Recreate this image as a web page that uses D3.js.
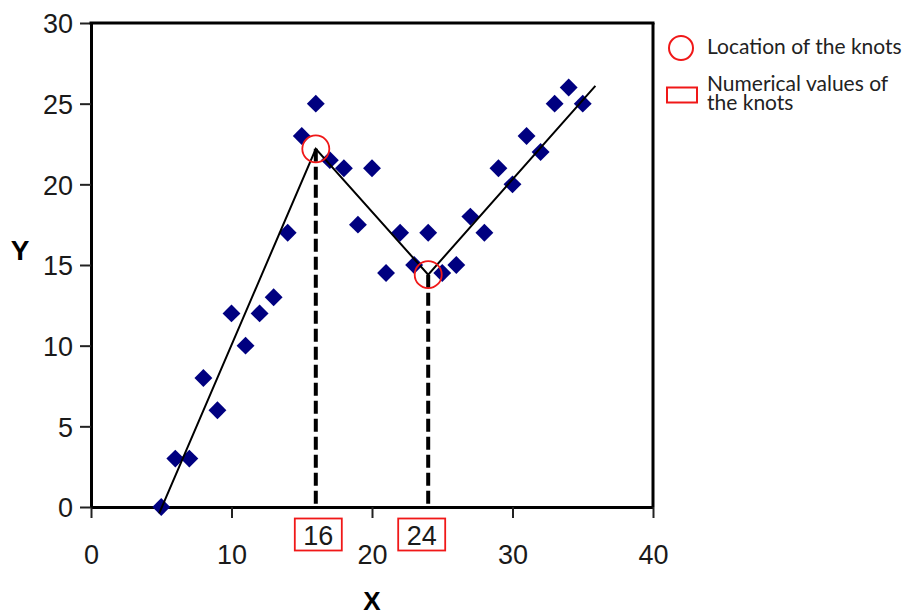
<!DOCTYPE html>
<html>
<head>
<meta charset="utf-8">
<script src="https://cdn.jsdelivr.net/npm/d3@7/dist/d3.min.js"></script>
<style>
  body { margin: 0; background: #fff; }
  svg { display: block; }
</style>
</head>
<body>
<svg id="chart" width="915" height="616"></svg>
<script>
// ---- data ----
const xValues = [5, 6, 7, 8, 9, 10, 11, 12, 13, 14, 15, 16, 17, 18, 19, 20, 21, 22, 23, 24, 25, 26, 27, 28, 29, 30, 31, 32, 33, 34, 35];
const yValues = [0, 3, 3, 8, 6, 12, 10, 12, 13, 17, 23, 25, 21.5, 21, 17.5, 21, 14.5, 17, 15, 17, 14.5, 15, 18, 17, 21, 20, 23, 22, 25, 26, 25];
const fitX = [4.85, 16, 24, 35.9];
const fitY = [-0.4, 22.2, 14.4, 26.1];
const knotX = [16, 24];
const knotY = [22.2, 14.4];
const knotLabels = ["16", "24"];
const xTicks = [0, 10, 20, 30, 40];
const yTicks = [0, 5, 10, 15, 20, 25, 30];
const legendLabels = [["Location of the knots"], ["Numerical values of", "the knots"]];

// ---- layout ----
const plotLeft = 91, plotTop = 23, plotRight = 653, plotBottom = 507;
const svg = d3.select("#chart");
const x = d3.scaleLinear().domain([0, 40]).range([plotLeft, plotRight]);
const y = d3.scaleLinear().domain([0, 30]).range([plotBottom, plotTop]);
const tickFont = "'Liberation Sans', Arial, Helvetica, sans-serif";

// axes
const xAxis = svg.append("g").attr("transform", `translate(0,${plotBottom})`)
  .call(d3.axisBottom(x).tickValues(xTicks).tickSizeInner(11).tickSizeOuter(0).tickPadding(27));
const yAxis = svg.append("g").attr("transform", `translate(${plotLeft},0)`)
  .call(d3.axisLeft(y).tickValues(yTicks).tickSizeInner(11).tickSizeOuter(0).tickPadding(7));
[xAxis, yAxis].forEach(g => {
  g.select(".domain").attr("stroke", "#000").attr("stroke-width", 3);
  g.selectAll(".tick line").attr("stroke", "#222").attr("stroke-width", 2);
  g.selectAll(".tick text").attr("fill", "#1a1a1a").style("font-family", tickFont).style("font-size", "27px");
});
yAxis.selectAll(".tick text").attr("dy", "0.36em");
// top & right frame
svg.append("line").attr("x1", x(0) - 1.5).attr("x2", x(40) + 1.5).attr("y1", y(30)).attr("y2", y(30))
  .attr("stroke", "#000").attr("stroke-width", 3);
svg.append("line").attr("x1", x(40)).attr("x2", x(40)).attr("y1", y(30)).attr("y2", y(0))
  .attr("stroke", "#000").attr("stroke-width", 3);

// axis titles
svg.append("text").attr("x", x(20)).attr("y", 610).attr("text-anchor", "middle")
  .style("font-family", tickFont).style("font-weight", "bold").style("font-size", "26px").text("X");
svg.append("text").attr("x", 20).attr("y", 260).attr("text-anchor", "middle")
  .style("font-family", tickFont).style("font-weight", "bold").style("font-size", "28px").text("Y");

// dashed knot lines
svg.selectAll(".knotline").data(knotX).enter().append("line")
  .attr("x1", d => x(d)).attr("x2", d => x(d))
  .attr("y1", (d, i) => y(knotY[i])).attr("y2", y(0))
  .attr("stroke", "#000").attr("stroke-width", 4).attr("stroke-dasharray", "13,5");

// data points
const sym = d3.symbol().type(d3.symbolSquare).size(160);
svg.selectAll(".pt").data(xValues).enter().append("path")
  .attr("d", sym)
  .attr("transform", (d, i) => `translate(${x(d)},${y(yValues[i])}) rotate(45)`)
  .attr("fill", "#000080");

// fitted piecewise line
const line = d3.line().x(d => x(d[0])).y(d => y(d[1]));
svg.append("path").datum(fitX.map((d, i) => [d, fitY[i]]))
  .attr("d", line).attr("fill", "none").attr("stroke", "#000").attr("stroke-width", 2);

// knot circles
svg.selectAll(".knot").data(knotX).enter().append("circle")
  .attr("cx", d => x(d)).attr("cy", (d, i) => y(knotY[i])).attr("r", 13.5)
  .attr("fill", "none").attr("stroke", "#f01818").attr("stroke-width", 1.8);

// knot value labels with boxes
const labelOffsets = [2.5, -6.5];
knotX.forEach((k, i) => {
  const cx = x(k) + labelOffsets[i];
  svg.append("rect").attr("x", cx - 23.5).attr("y", 518.5).attr("width", 47).attr("height", 32)
    .attr("fill", "none").attr("stroke", "#f01818").attr("stroke-width", 1.8);
  svg.append("text").attr("x", cx).attr("y", 545).attr("text-anchor", "middle")
    .style("font-family", tickFont).style("font-size", "27px").attr("fill", "#1a1a1a").text(knotLabels[i]);
});

// legend
const legFont = "Lato, 'Open Sans', sans-serif";
svg.append("circle").attr("cx", 681).attr("cy", 48).attr("r", 12).attr("fill", "none")
  .attr("stroke", "#f01818").attr("stroke-width", 2);
svg.append("rect").attr("x", 667).attr("y", 87.5).attr("width", 30).attr("height", 15).attr("fill", "none")
  .attr("stroke", "#f01818").attr("stroke-width", 2);
svg.append("text").attr("x", 707).attr("y", 54)
  .style("font-family", legFont).style("font-size", "21px").attr("fill", "#222")
  .text(legendLabels[0][0]);
legendLabels[1].forEach((t, i) => {
  svg.append("text").attr("x", 707).attr("y", 91 + i * 19)
    .style("font-family", legFont).style("font-size", "21px").attr("fill", "#222").text(t);
});
</script>
</body>
</html>
